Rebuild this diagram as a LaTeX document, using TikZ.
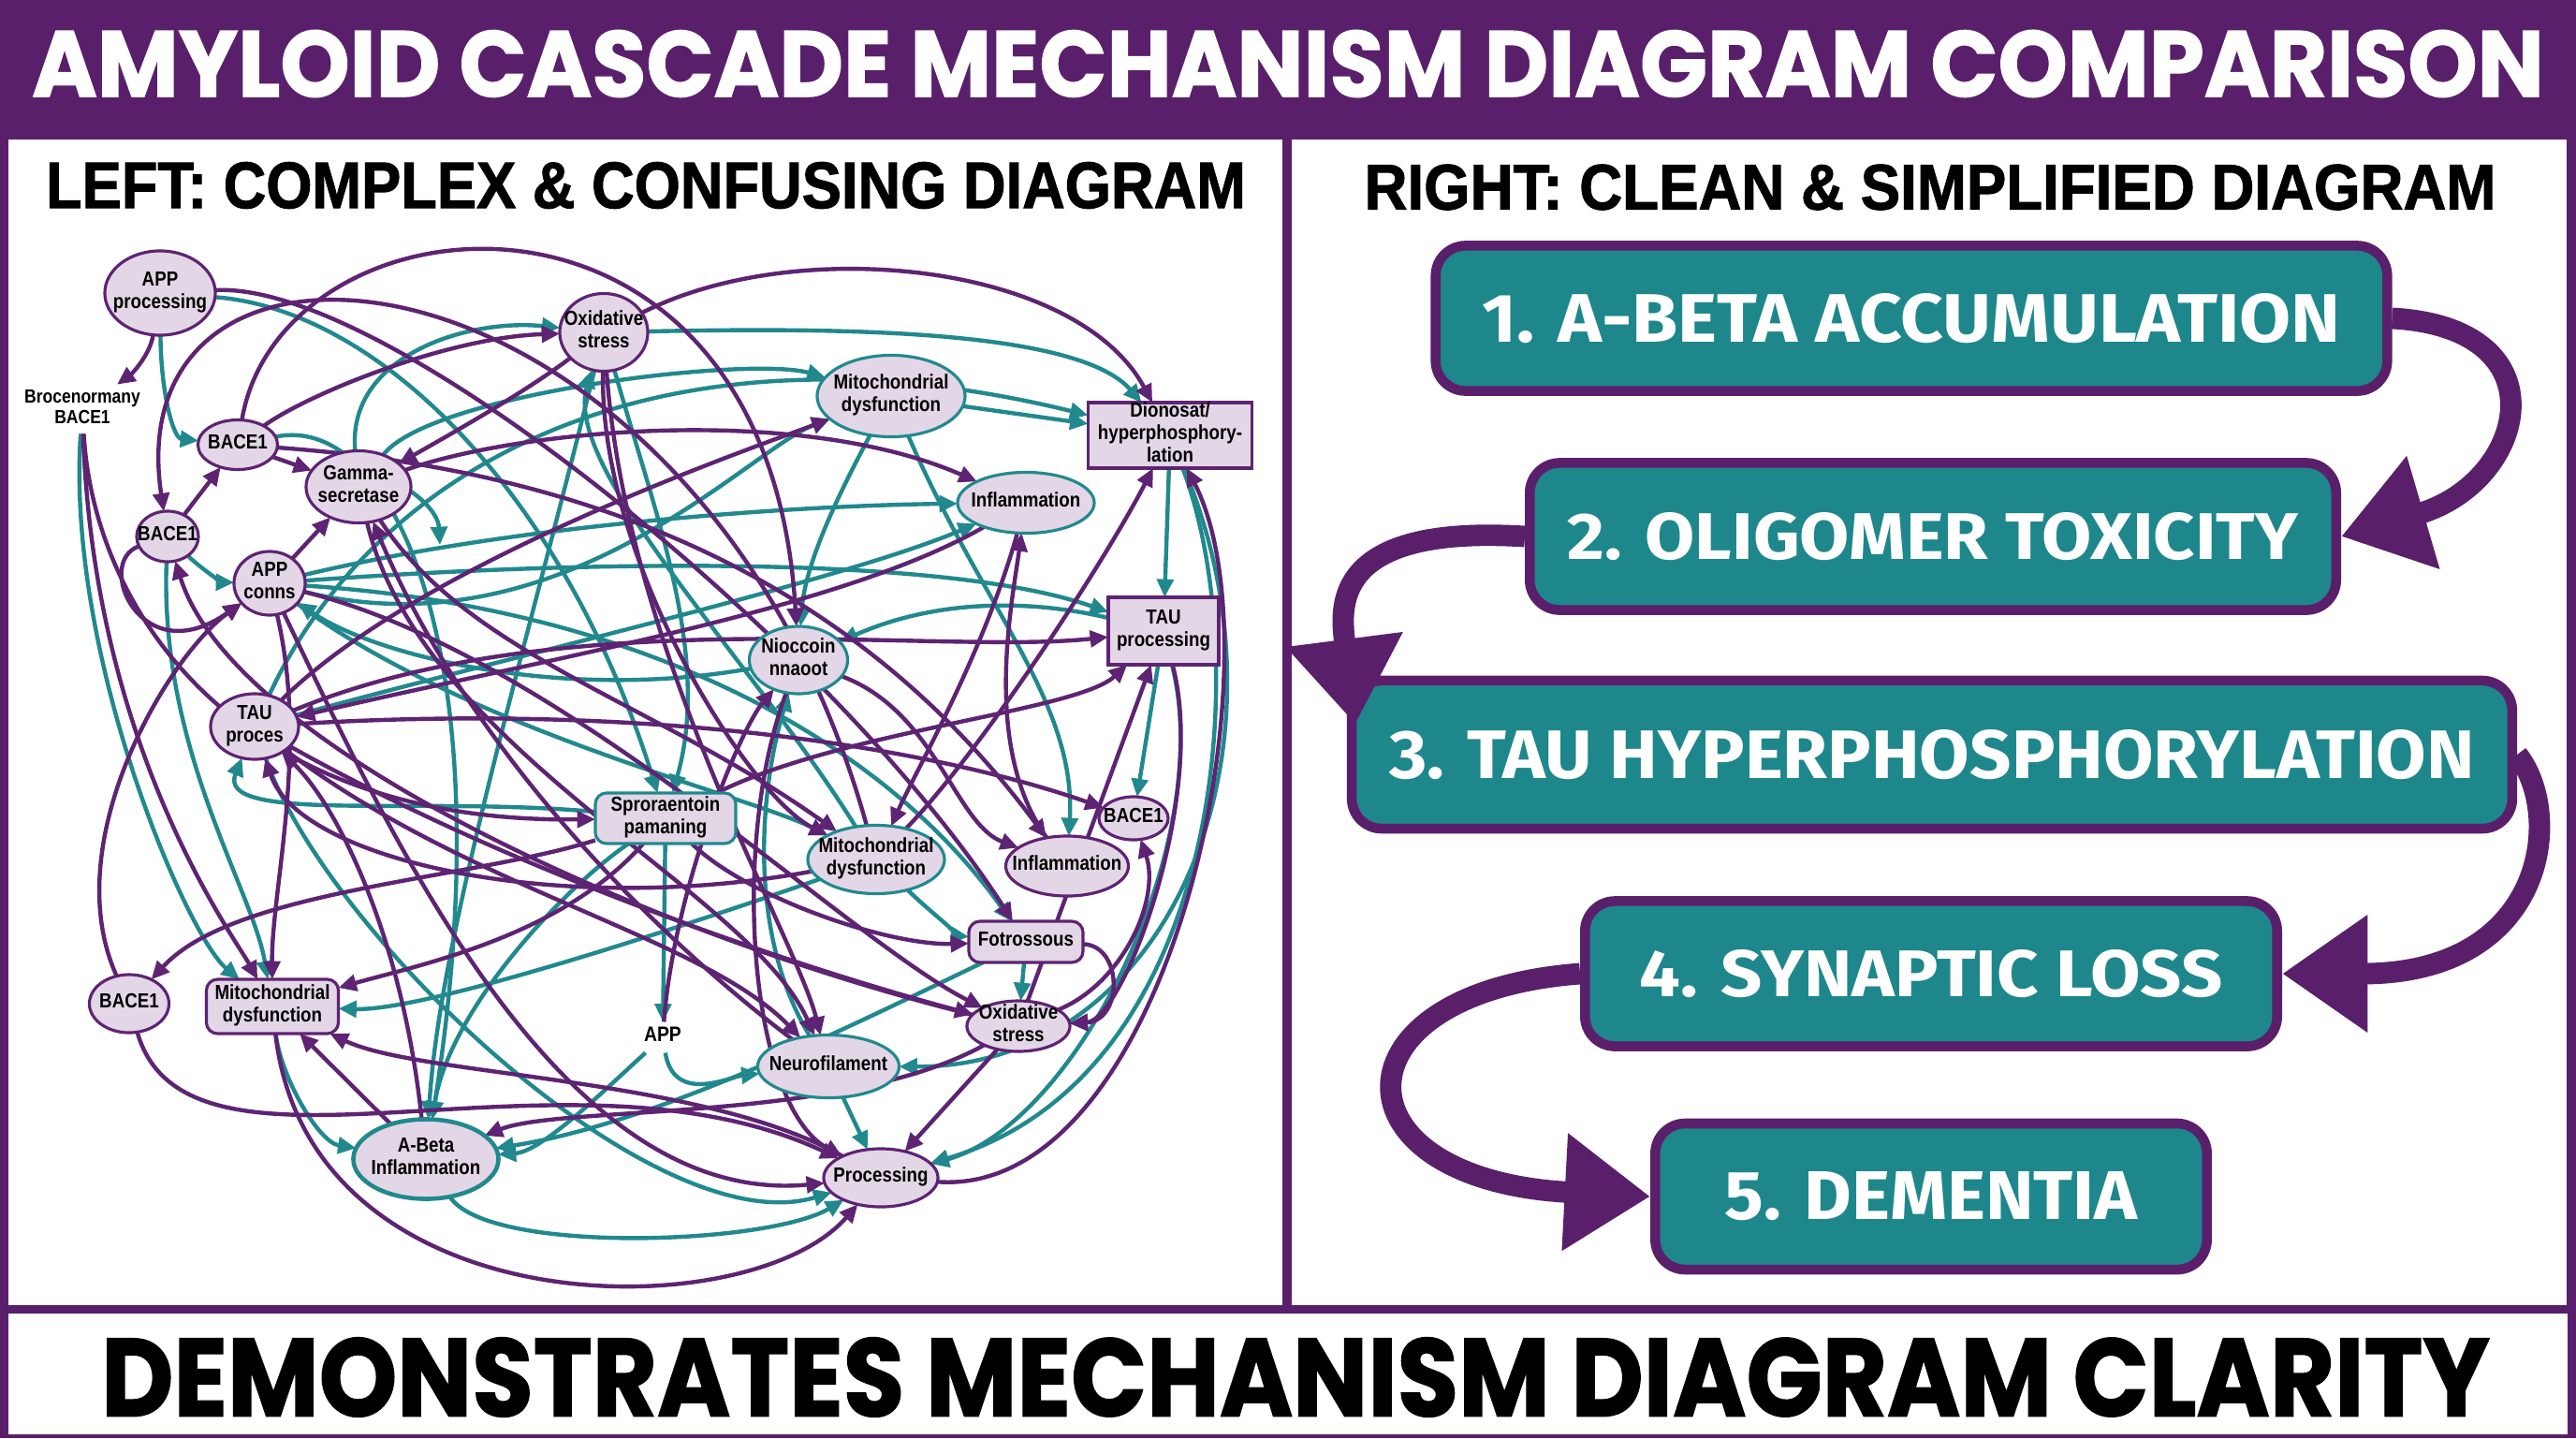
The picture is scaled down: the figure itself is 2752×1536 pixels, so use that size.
\documentclass[tikz,border=0pt]{standalone}
\usepackage{fontspec}
\usepackage{graphicx}
\setmainfont{Liberation Sans}
\newfontfamily\popfont{Poppins}[BoldFeatures={FakeBold=1.3}]
\newfontfamily\headfont{Liberation Sans}[BoldFeatures={FakeBold=1.5}]
\newfontfamily\firafont{Fira Sans}
\usetikzlibrary{shapes.geometric,arrows.meta,calc}
\pgfdeclarelayer{bg}
\pgfdeclarelayer{edges}
\pgfsetlayers{bg,edges,main}
\definecolor{purp}{HTML}{5A1F6B}
\definecolor{tealc}{HTML}{1E878C}
\definecolor{lav}{HTML}{E3D6E6}
\definecolor{epurp}{HTML}{5E2372}
\definecolor{eteal}{HTML}{21898E}
\newcommand{\ntx}[1]{\makebox[0pt]{\raisebox{-1.5pt}[0pt][0pt]{\scalebox{0.86}[1]{\begin{tabular}{@{}c@{}}#1\end{tabular}}}}}
\newcommand{\ptx}[1]{\scalebox{0.86}[1]{\begin{tabular}{@{}c@{}}#1\end{tabular}}}
\tikzset{
 ntext/.style={font=\fontsize{6.2}{6.8}\selectfont\bfseries, inner sep=0pt, outer sep=0pt},
 elP/.style={ntext, ellipse, draw=epurp, line width=0.9pt, fill=lav},
 elT/.style={ntext, ellipse, draw=eteal, line width=0.9pt, fill=lav},
 rcP/.style={ntext, rectangle, draw=epurp, line width=0.9pt, fill=lav},
 rrT/.style={ntext, rectangle, rounded corners=0.12cm, draw=eteal, line width=0.9pt, fill=lav},
 rrP/.style={ntext, rectangle, rounded corners=0.12cm, draw=epurp, line width=0.9pt, fill=lav},
 plaintxt/.style={font=\fontsize{5.8}{6.3}\selectfont\bfseries, inner sep=1pt},
 pe/.style={draw=epurp, line width=1.25pt, -{Triangle[length=5.5pt,width=5pt]}},
 te/.style={draw=eteal, line width=1.25pt, -{Triangle[length=5.5pt,width=5pt]}},
 stepbox/.style={rectangle, rounded corners=0.32cm, fill=tealc, draw=purp, line width=3pt, text=white, inner sep=0pt},
 bigarr/.style={draw=purp, line width=6.5pt, -{Triangle[length=26pt,width=34pt]}},
}
\begin{document}
\begin{tikzpicture}[x=0.01cm,y=-0.01cm]
\useasboundingbox (0,0) rectangle (2752,1536);
\begin{pgfonlayer}{bg}
\fill[purp] (0,0) rectangle (2752,1536);
\fill[white] (9,149) rectangle (1370,1394);
\fill[white] (1380,149) rectangle (2742,1394);
\fill[white] (9,1403) rectangle (2743,1532);
\end{pgfonlayer}

% headings
\node[text=white, inner sep=0pt] (title) at (1376,68) {\resizebox{26.82cm}{0.71cm}{\popfont\bfseries AMYLOID CASCADE MECHANISM DIAGRAM COMPARISON}};
\node[inner sep=0pt] (lhead) at (690,198) {\resizebox{12.81cm}{0.49cm}{\headfont\bfseries LEFT: COMPLEX \& CONFUSING DIAGRAM}};
\node[inner sep=0pt] (rhead) at (2062,200) {\resizebox{12.08cm}{0.48cm}{\headfont\bfseries RIGHT: CLEAN \& SIMPLIFIED DIAGRAM}};
\node[inner sep=0pt] (foot) at (1384,1471) {\resizebox{25.50cm}{0.84cm}{\popfont\bfseries DEMONSTRATES MECHANISM DIAGRAM CLARITY}};

% left nodes
\node[elP, minimum width=1.18cm, minimum height=0.90cm] (appP) at (171,313) {\ntx{APP\\processing}};
\node[plaintxt] (broc) at (88,437) {\ptx{Brocenormany\\BACE1}};
\node[elP, minimum width=0.85cm, minimum height=0.53cm] (bA) at (254,475) {\ntx{BACE1}};
\node[elP, minimum width=1.12cm, minimum height=0.77cm] (gam) at (383,520) {\ntx{Gamma-\\secretase}};
\node[elP, minimum width=0.66cm, minimum height=0.54cm] (bB) at (179,573) {\ntx{BACE1}};
\node[elP, minimum width=0.76cm, minimum height=0.68cm] (appC) at (288,623) {\ntx{APP\\conns}};
\node[elP, minimum width=0.94cm, minimum height=0.83cm] (ox1) at (645,355) {\ntx{Oxidative\\stress}};
\node[elT, minimum width=1.58cm, minimum height=0.87cm] (mit1) at (952,423) {\ntx{Mitochondrial\\dysfunction}};
\node[rcP, minimum width=1.75cm, minimum height=0.70cm] (dio) at (1250,465) {\ntx{Dionosat/\\hyperphosphory-\\lation}};
\node[elT, minimum width=1.46cm, minimum height=0.65cm] (inf1) at (1096,537) {\ntx{Inflammation}};
\node[rcP, minimum width=1.18cm, minimum height=0.72cm] (tauP) at (1243,674) {\ntx{TAU\\processing}};
\node[elT, minimum width=1.05cm, minimum height=0.72cm] (nio) at (853,705) {\ntx{Nioccoin\\nnaoot}};
\node[elP, minimum width=0.94cm, minimum height=0.70cm] (tauC) at (272,776) {\ntx{TAU\\proces}};
\node[rrT, minimum width=1.50cm, minimum height=0.54cm] (spr) at (711,874) {\ntx{Sproraentoin\\pamaning}};
\node[elT, minimum width=1.46cm, minimum height=0.73cm] (mit2) at (936,918) {\ntx{Mitochondrial\\dysfunction}};
\node[elP, minimum width=1.31cm, minimum height=0.64cm] (inf2) at (1140,925) {\ntx{Inflammation}};
\node[elP, minimum width=0.74cm, minimum height=0.46cm] (bC) at (1211,874) {\ntx{BACE1}};
\node[rrP, minimum width=1.22cm, minimum height=0.44cm] (fot) at (1096,1006) {\ntx{Fotrossous}};
\node[elP, minimum width=1.10cm, minimum height=0.54cm] (ox2) at (1088,1096) {\ntx{Oxidative\\stress}};
\node[plaintxt, font=\fontsize{6.4}{7}\selectfont\bfseries] (app) at (708,1108) {\ptx{APP}};
\node[elT, minimum width=1.51cm, minimum height=0.67cm] (neu) at (885,1139) {\ntx{Neurofilament}};
\node[elP, minimum width=1.22cm, minimum height=0.62cm] (proc) at (941,1258) {\ntx{Processing}};
\node[elP, minimum width=0.85cm, minimum height=0.62cm] (bD) at (138,1072) {\ntx{BACE1}};
\node[rrP, minimum width=1.41cm, minimum height=0.58cm] (mit3) at (291,1075) {\ntx{Mitochondrial\\dysfunction}};
\node[elT, line width=1.3pt, minimum width=1.55cm, minimum height=0.85cm] (abeta) at (455,1238) {\ntx{A-Beta\\Inflammation}};
\coordinate (c1) at (470,582);

\begin{pgfonlayer}{edges}
% teal connectors
\draw[te] (appP) .. controls (172,420) and (185,468) .. (bA);
\draw[te] (appP) .. controls (400,330) and (600,520) .. (spr);
\draw[te] (bB) .. controls (220,612) and (240,622) .. (appC);
\draw[te] (gam) .. controls (370,380) and (500,340) .. (ox1);
\draw[te] (gam) .. controls (440,525) and (468,545) .. (c1);
\draw[te] (bA) .. controls (420,440) and (540,700) .. (abeta);
\draw[te] (ox1) .. controls (880,350) and (1150,350) .. (dio);
\draw[te] (tauC) .. controls (400,500) and (700,330) .. (dio);
\draw[te] (mit1) -- (dio);
\draw[te] (appC) .. controls (550,560) and (850,540) .. (inf1);
\draw[te] (tauC) .. controls (550,700) and (900,620) .. (inf1);
\draw[te] (dio) -- (tauP);
\draw[te] (dio) .. controls (1340,700) and (1310,1150) .. (proc);
\draw[te] (appC) .. controls (600,600) and (1000,590) .. (tauP);
\draw[te] (tauP) -- (bC);
\draw[te] (tauP) .. controls (1300,900) and (1150,1200) .. (proc);
\draw[te] (mit1) .. controls (900,520) and (860,600) .. (nio);
\draw[te] (tauP) .. controls (1100,640) and (1000,640) .. (nio);
\draw[te] (mit1) .. controls (1050,650) and (1150,750) .. (inf2);
\draw[te] (fot) -- (ox2);
\draw[te] (neu) -- (proc);
\draw[te] (dio) .. controls (1390,800) and (1250,1140) .. (neu);
\draw[te] (ox1) .. controls (700,550) and (760,700) .. (spr);
\draw[te] (spr) -- (app);
\draw[te] (appC) .. controls (500,780) and (800,850) .. (mit2);
\draw[te] (mit2) .. controls (1000,980) and (1030,1000) .. (fot);
\draw[te] (neu) .. controls (800,1000) and (810,850) .. (nio);
\draw[te] (app) .. controls (650,1160) and (580,1230) .. (abeta);
\draw[te] (spr) .. controls (600,950) and (480,1080) .. (abeta);
\draw[te] (mit3) .. controls (300,1150) and (340,1220) .. (abeta);
\draw[te] (abeta) .. controls (520,1340) and (820,1330) .. (proc);
\draw[te] (mit2) .. controls (700,1000) and (450,1080) .. (mit3);
\draw[te] (broc) .. controls (70,700) and (200,1000) .. (mit3);
\draw[te] (bB) .. controls (170,800) and (270,950) .. (mit3);
\draw[te] (spr) .. controls (450,850) and (230,880) .. (tauC);
\draw[te] (app) .. controls (720,1180) and (780,1150) .. (neu);
\draw[te] (tauC) .. controls (350,1000) and (700,1330) .. (proc);
\draw[te] (gam) .. controls (460,420) and (800,380) .. (mit1);
\draw[te] (appC) .. controls (600,700) and (800,480) .. (mit1);
\draw[te] (ox1) .. controls (560,700) and (470,1000) .. (abeta);
\draw[te] (appC) .. controls (700,650) and (950,800) .. (fot);
\draw[te] (nio) .. controls (600,750) and (400,700) .. (appC);
\draw[te] (mit2) .. controls (800,700) and (600,500) .. (ox1);
\draw[te] (fot) .. controls (900,1100) and (700,1200) .. (abeta);
% purple connectors
\draw[pe] (appP) .. controls (160,380) and (140,400) .. (broc);
\draw[pe] (bB) -- (bA);
\draw[pe] (bA) -- (gam);
\draw[pe] (appC) -- (gam);
\draw[pe] (bA) .. controls (330,420) and (480,360) .. (ox1);
\draw[pe] (ox1) .. controls (560,420) and (470,470) .. (gam);
\draw[pe] (bA) .. controls (300,200) and (820,150) .. (nio);
\draw[pe] (mit2) .. controls (750,250) and (120,180) .. (bB);
\draw[pe] (ox1) .. controls (850,250) and (1150,280) .. (dio);
\draw[pe] (gam) .. controls (550,460) and (850,430) .. (inf1);
\draw[pe] (mit2) .. controls (1050,800) and (1180,600) .. (dio);
\draw[pe] (proc) .. controls (1250,1280) and (1370,700) .. (dio);
\draw[pe] (tauC) .. controls (600,640) and (1000,700) .. (tauP);
\draw[pe] (ox2) -- (tauP);
\draw[pe] (tauP) .. controls (1290,850) and (1200,1090) .. (ox2);
\draw[pe] (ox2) .. controls (1200,1050) and (1240,960) .. (bC);
\draw[pe] (nio) .. controls (1000,760) and (1020,880) .. (inf2);
\draw[pe] (inf2) .. controls (1050,800) and (1080,650) .. (inf1);
\draw[pe] (spr) .. controls (800,960) and (950,1010) .. (fot);
\draw[pe] (fot) .. controls (1200,1010) and (1200,1090) .. (ox2);
\draw[pe] (ox2) -- (proc);
\draw[pe] (app) .. controls (720,950) and (790,780) .. (nio);
\draw[pe] (tauC) .. controls (500,950) and (750,1000) .. (neu);
\draw[pe] (gam) .. controls (450,800) and (800,950) .. (neu);
\draw[pe] (tauC) .. controls (600,960) and (950,1060) .. (ox2);
\draw[pe] (bD) .. controls (200,1290) and (600,1100) .. (proc);
\draw[pe] (appC) .. controls (420,900) and (600,1290) .. (proc);
\draw[pe] (mit3) .. controls (330,1420) and (800,1420) .. (proc);
\draw[pe] (abeta) -- (mit3);
\draw[pe] (spr) .. controls (600,1000) and (450,1030) .. (mit3);
\draw[pe] (proc) .. controls (750,1150) and (450,1150) .. (mit3);
\draw[pe] (appC) .. controls (330,800) and (290,950) .. (mit3);
\draw[pe] (spr) .. controls (500,940) and (250,950) .. (bD);
\draw[pe] (bD) .. controls (60,900) and (180,700) .. (appC);
\draw[pe] (abeta) .. controls (430,1000) and (360,860) .. (tauC);
\draw[pe] (mit2) .. controls (600,980) and (320,920) .. (tauC);
\draw[pe] (broc) .. controls (100,650) and (250,880) .. (spr);
\draw[pe] (bB) .. controls (100,600) and (150,720) .. (appC);
\draw[pe] (appP) .. controls (420,300) and (900,700) .. (fot);
\draw[pe] (ox1) .. controls (640,600) and (800,850) .. (mit2);
\draw[pe] (ox1) .. controls (670,700) and (850,1000) .. (neu);
\draw[pe] (appC) .. controls (600,700) and (900,1000) .. (ox2);
\draw[pe] (tauC) .. controls (450,600) and (800,480) .. (mit1);
\draw[pe] (nio) .. controls (780,900) and (800,1180) .. (proc);
\draw[pe] (inf1) .. controls (1050,700) and (980,820) .. (mit2);
\draw[pe] (broc) .. controls (100,800) and (250,1000) .. (mit3);
\draw[pe] (ox2) .. controls (700,1000) and (250,800) .. (bB);
\draw[pe] (gam) .. controls (500,700) and (700,750) .. (mit2);
\draw[pe] (bA) .. controls (600,500) and (900,600) .. (inf2);
\draw[pe] (tauC) .. controls (700,750) and (1000,800) .. (bC);
\draw[pe] (spr) .. controls (900,780) and (1150,760) .. (tauP);
\draw[pe] (neu) .. controls (700,1000) and (500,800) .. (gam);
\draw[pe] (inf1) .. controls (900,650) and (600,700) .. (tauC);
\draw[pe] (ox2) .. controls (900,1200) and (600,1180) .. (abeta);
\end{pgfonlayer}

% right panel steps
\node[stepbox, minimum width=10.16cm, minimum height=1.55cm] (s1) at (2042,340) {\resizebox{9.16cm}{0.52cm}{\firafont\bfseries 1. A-BETA ACCUMULATION}};
\node[stepbox, minimum width=8.61cm, minimum height=1.57cm] (s2) at (2065,573) {\resizebox{7.80cm}{0.50cm}{\firafont\bfseries 2. OLIGOMER TOXICITY}};
\node[stepbox, minimum width=12.39cm, minimum height=1.58cm] (s3) at (2064,806) {\resizebox{11.59cm}{0.52cm}{\firafont\bfseries 3. TAU HYPERPHOSPHORYLATION}};
\node[stepbox, minimum width=7.39cm, minimum height=1.55cm] (s4) at (2063,1040) {\resizebox{6.22cm}{0.50cm}{\firafont\bfseries 4. SYNAPTIC LOSS}};
\node[stepbox, minimum width=5.89cm, minimum height=1.56cm] (s5) at (2063,1278) {\resizebox{4.41cm}{0.51cm}{\firafont\bfseries 5. DEMENTIA}};

\draw[bigarr] (s1.east) .. controls (2740,350) and (2700,515) .. (s2.east);
\draw[bigarr] (s2.west) .. controls (1420,560) and (1432,650) .. ($(s3.north west)+(9,52)$);
\draw[bigarr] (s3.east) .. controls (2740,870) and (2720,1040) .. (s4.east);
\draw[bigarr] (s4.west) .. controls (1420,1060) and (1420,1260) .. (s5.west);
\end{tikzpicture}
\end{document}
